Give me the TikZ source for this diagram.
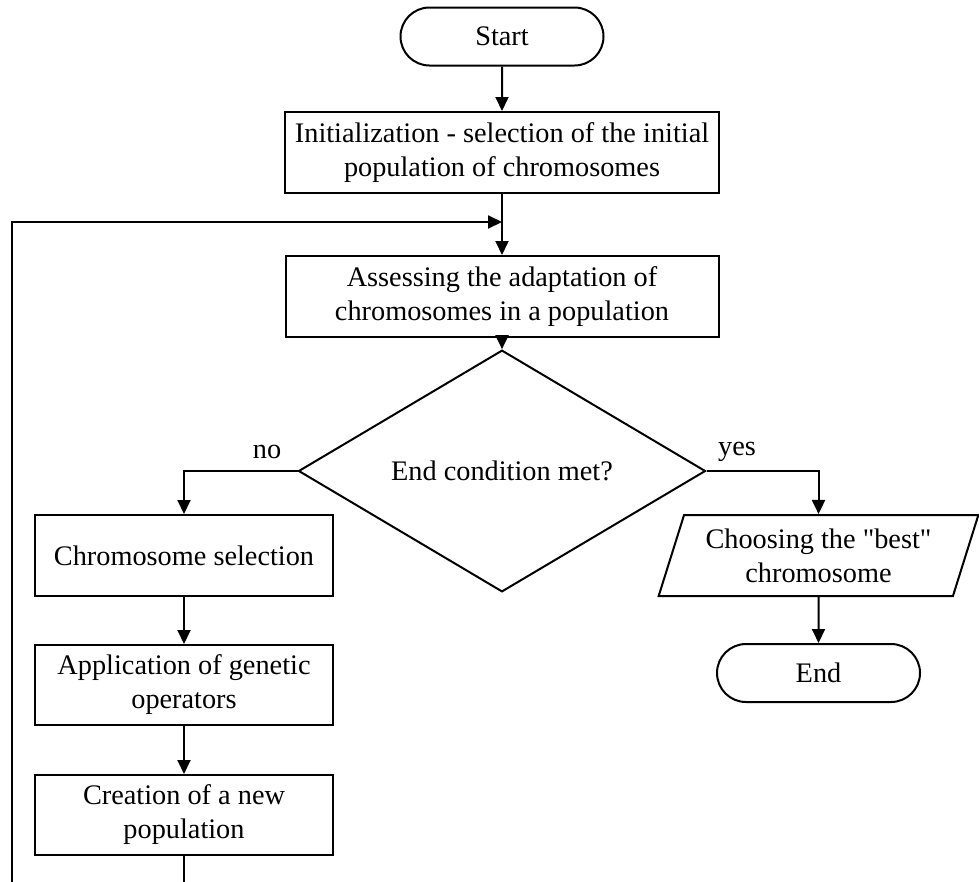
\documentclass[tikz,border=0pt]{standalone}
\usepackage{fontspec}
\setmainfont{Liberation Serif}
\usetikzlibrary{shapes.geometric,shapes.misc,arrows.meta}

\tikzset{
	terminal/.style={rounded rectangle, draw, line width=2pt, minimum width=203pt, minimum height=58pt, inner sep=0pt},
	process/.style={rectangle, draw, line width=2pt, align=center, inner sep=0pt},
	decision/.style={diamond, draw, line width=2pt, minimum width=407pt, minimum height=140pt, inner sep=0pt},
	io/.style={trapezium, trapezium left angle=68.4, trapezium right angle=111.6, trapezium stretches=true, draw, line width=2pt, align=center, minimum width=321pt, minimum height=81pt, inner sep=0pt},
	arrow/.style={line width=2pt, -{Triangle[length=14pt,width=13pt]}}
}

\begin{document}
\begin{tikzpicture}[x=1pt, y=-1pt, font=\fontsize{28.3}{34}\selectfont]
	\useasboundingbox (0,0) rectangle (979,881);
	\clip (0,0) rectangle (979,881);
	\node[terminal] (start) at (502,36.5) {Start};
	\node[process, minimum width=434pt, minimum height=81pt] (init) at (502,152.5) {Initialization - selection of the initial\\population of chromosomes};
	\coordinate (junction) at (502,222);
	\node[process, minimum width=433pt, minimum height=81pt] (assess) at (502,296.5) {Assessing the adaptation of\\chromosomes in a population};
	\node[decision] (cond) at (502,471) {End condition met?};
	
	\node[process, minimum width=298pt, minimum height=81pt] (sel) at (184,555.5) {Chromosome selection};
	\node[process, minimum width=298pt, minimum height=80pt] (app) at (184,685) {Application of genetic\\operators};
	\node[process, minimum width=298pt, minimum height=80pt] (create) at (184,815) {Creation of a new\\population};
	
	\node[io] (best) at (818.5,555.5) {Choosing the \textquotedbl best\textquotedbl\\chromosome};
	\node[terminal] (end) at (818.5,673) {End};
	
	\node (no) at (267,452) {no};
	\node (yes) at (737,452) {yes};
	\coordinate (loop) at (12,920);
	
	\draw[arrow] (start) -- (init);
	\draw[line width=2pt] (init) -- (junction);
	\draw[arrow] (junction) -- (assess);
	\draw[arrow] (assess) -- (cond);
	\draw[arrow] (cond.west) -| (sel.north);
	\draw[arrow] (sel) -- (app);
	\draw[arrow] (app) -- (create);
	\draw[arrow] (create) -- (create |- loop) -- (loop) |- (junction);
	\draw[arrow] (cond.east) -| (best.north);
	\draw[arrow] (best) -- (end);
\end{tikzpicture}
\end{document}
